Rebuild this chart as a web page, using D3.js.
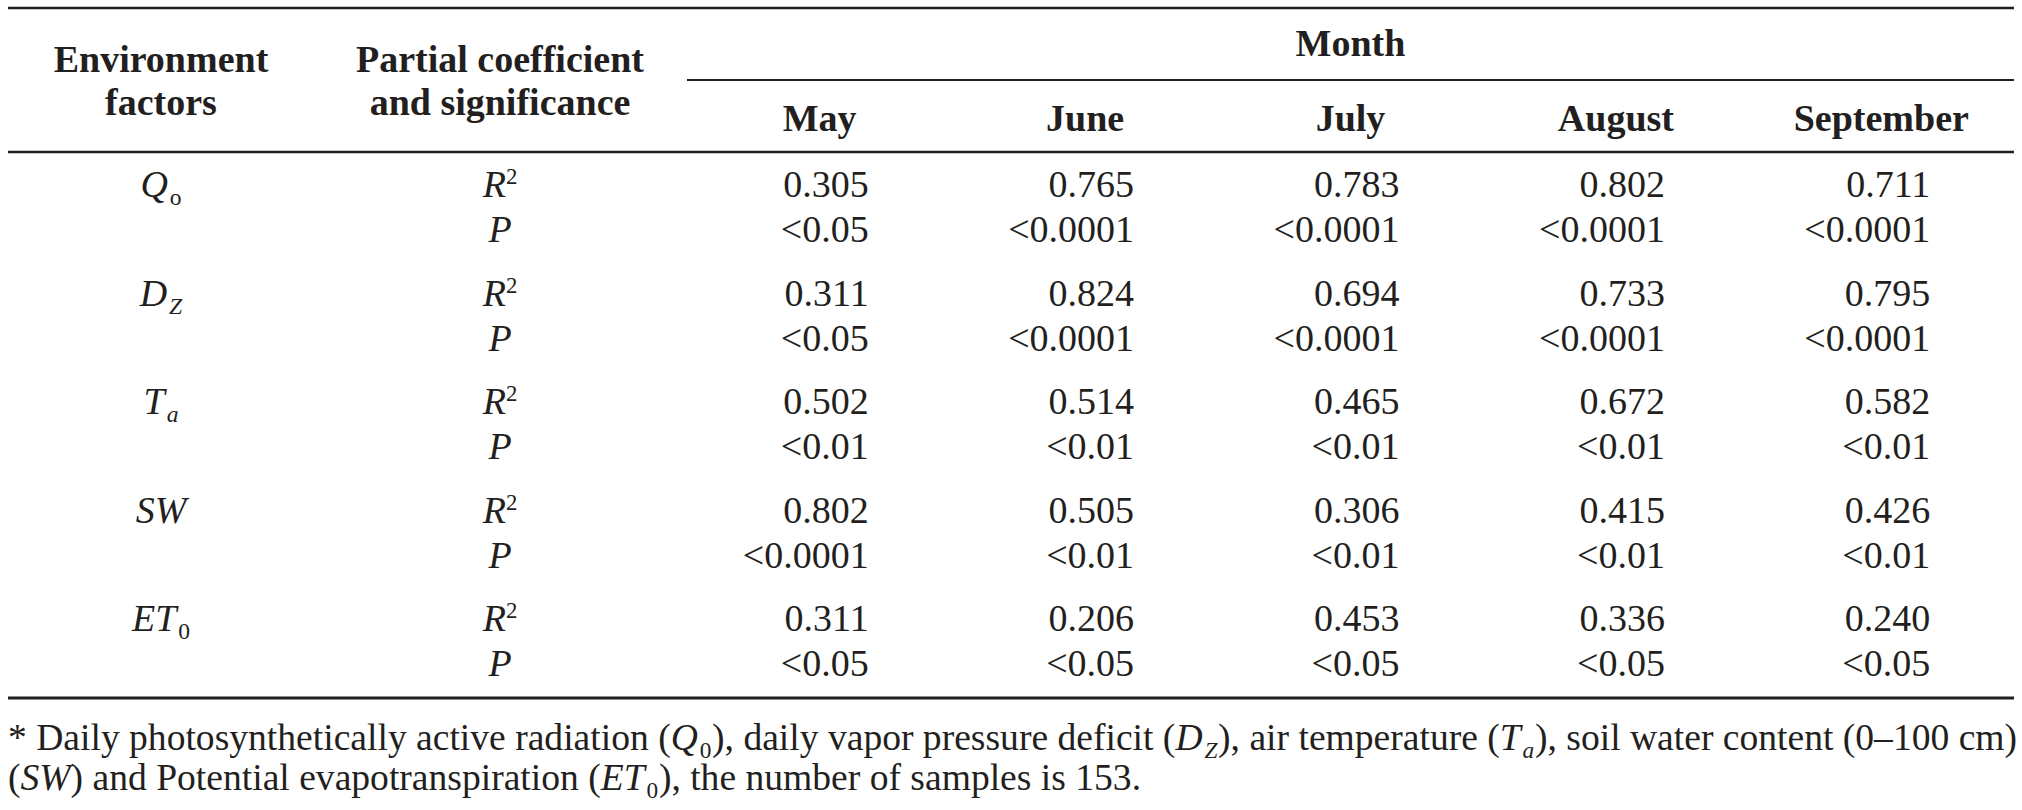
<!DOCTYPE html>
<html>
<head>
<meta charset="utf-8">
<script src="https://cdn.jsdelivr.net/npm/d3@7/dist/d3.min.js"></script>
<style>
  html, body { margin: 0; padding: 0; background: #fff; }
  svg { display: block; }
</style>
</head>
<body>
<svg id="chart" width="2022" height="810"></svg>
<script>
// ---- data ----
const months = ["May", "June", "July", "August", "September"];
const factors = ["Qo", "DZ", "Ta", "SW", "ET0"];
const r2Values = [
  [0.305, 0.765, 0.783, 0.802, 0.711],
  [0.311, 0.824, 0.694, 0.733, 0.795],
  [0.502, 0.514, 0.465, 0.672, 0.582],
  [0.802, 0.505, 0.306, 0.415, 0.426],
  [0.311, 0.206, 0.453, 0.336, 0.240]
];
const pValues = [
  ["<0.05", "<0.0001", "<0.0001", "<0.0001", "<0.0001"],
  ["<0.05", "<0.0001", "<0.0001", "<0.0001", "<0.0001"],
  ["<0.01", "<0.01", "<0.01", "<0.01", "<0.01"],
  ["<0.0001", "<0.01", "<0.01", "<0.01", "<0.01"],
  ["<0.05", "<0.05", "<0.05", "<0.05", "<0.05"]
];
const headerCol1 = ["Environment", "factors"];
const headerCol2 = ["Partial coefficient", "and significance"];
const headerGroup = "Month";

// ---- layout ----
const FONT = "Liberation Serif";
const svg = d3.select("#chart").attr("font-family", FONT).style("font-family", FONT);
const ink = "#231f20";
const fs = 38;
const fsNote = 37.6;
const left = 8, right = 2014;

const x = d3.scaleBand().domain(months).range([687, 2014]);
const rowY = d3.scaleLinear().domain([0, factors.length - 1]).range([197, 631]);
const col1 = 161, col2 = 500;
const pGap = 45;
const fmt = d3.format(".3f");

function txt(xp, yp, anchor, size) {
  return svg.append("text").attr("x", xp).attr("y", yp).attr("text-anchor", anchor || "start")
    .attr("font-size", size || fs).attr("fill", ink).style("font-family", FONT);
}
function rule(y, x1, x2, w) {
  svg.append("line").attr("x1", x1).attr("x2", x2).attr("y1", y).attr("y2", y)
    .attr("stroke", ink).attr("stroke-width", w);
}
rule(8, left, right, 2.5);
rule(80, 687, right, 2);
rule(152, left, right, 2.5);
rule(698, left, right, 3);

// headers
headerCol1.forEach((t, i) => txt(col1, 72 + i * 43, "middle").attr("font-weight", "bold").text(t));
headerCol2.forEach((t, i) => txt(col2, 72 + i * 43, "middle").attr("font-weight", "bold").text(t));
txt((687 + 2014) / 2, 56, "middle").attr("font-weight", "bold").text(headerGroup);
months.forEach(m => txt(x(m) + x.bandwidth() / 2, 131, "middle").attr("font-weight", "bold").text(m));

// rich text: parts = [text, italic, sub]
function richText(sel, parts, base) {
  let lowered = false;
  parts.forEach(([t, it, sub]) => {
    const ts = sel.append("tspan").text(t).attr("font-style", it ? "italic" : "normal");
    if (sub) {
      ts.attr("font-size", base * 0.62).attr("dx", base * 0.05);
      if (!lowered) { ts.attr("dy", base * 0.22); lowered = true; }
    } else if (lowered) {
      ts.attr("dy", -base * 0.22).attr("dx", base * 0.02); lowered = false;
    }
  });
}
const factorParts = {
  "Qo": [["Q", true, false], ["o", false, true]],
  "DZ": [["D", true, false], ["Z", true, true]],
  "Ta": [["T", true, false], ["a", true, true]],
  "SW": [["SW", true, false]],
  "ET0": [["ET", true, false], ["0", false, true]]
};

factors.forEach((f, i) => {
  const y = rowY(i);
  richText(txt(col1, y, "middle"), factorParts[f], fs);
  const r = txt(col2, y, "middle");
  r.append("tspan").attr("font-style", "italic").text("R");
  r.append("tspan").attr("font-size", fs * 0.6).attr("dy", -fs * 0.34).text("2");
  txt(col2, y + pGap, "middle").attr("font-style", "italic").text("P");

  months.forEach((m, j) => {
    const cx = x(m) + x.bandwidth() / 2 + 49;
    txt(cx, y, "end").text(fmt(r2Values[i][j]));
    txt(cx, y + pGap, "end").text(pValues[i][j]);
  });
});

// footnote
const fnLines = [
  [["* Daily photosynthetically active radiation (", false, false], ["Q", true, false], ["0", false, true],
   ["), daily vapor pressure deficit (", false, false], ["D", true, false], ["Z", true, true],
   ["), air temperature (", false, false], ["T", true, false], ["a", true, true],
   ["), soil water content (0–100 cm)", false, false]],
  [["(", false, false], ["SW", true, false], [") and Potential evapotranspiration (", false, false],
   ["ET", true, false], ["0", false, true], ["), the number of samples is 153.", false, false]]
];
fnLines.forEach((parts, i) => richText(txt(left, 750 + i * 40, "start", fsNote), parts, fsNote));
</script>
</body>
</html>
